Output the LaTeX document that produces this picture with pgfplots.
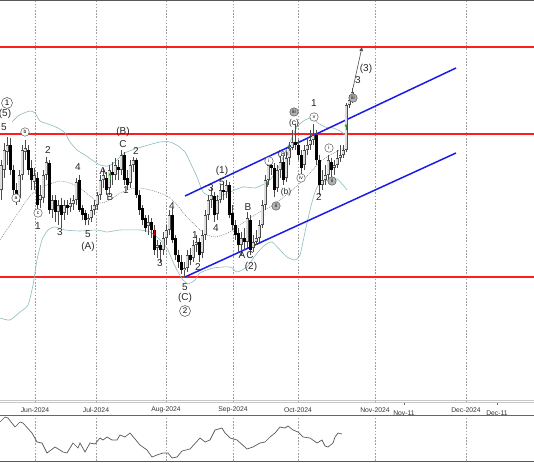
\documentclass[border=0pt]{standalone}
\usepackage{pgfplots}
\pgfplotsset{compat=1.18}
\usepackage{pgfplotstable}
\usepackage{fontspec}
\setmainfont{Liberation Sans}
\usetikzlibrary{arrows.meta}

\definecolor{bandc}{HTML}{8CBCBC}
\definecolor{redl}{HTML}{FF1E1E}
\definecolor{bluel}{HTML}{1C1CE8}
\definecolor{gridc}{HTML}{A0A0A0}
\definecolor{upfill}{HTML}{DEDEDE}
\definecolor{wavec}{HTML}{262626}
\definecolor{arrg}{HTML}{2E8B2E}

% price scale: negative of the pixel depth in the reference (higher = larger)
\pgfplotstableread{
x o h l c
1 -190 -160 -200 -165
4 -170 -143 -178 -150
7 -152 -137 -165 -145
10 -145 -138 -175 -170
13 -170 -165 -195 -190
16 -190 -183 -205 -200
19 -198 -170 -202 -175
22 -175 -145 -180 -150
25 -152 -140 -160 -148
28 -150 -145 -175 -170
31 -168 -160 -190 -180
34 -182 -168 -190 -175
37 -178 -172 -210 -205
40 -200 -185 -208 -195
43 -198 -170 -203 -175
46 -175 -157 -180 -162
49 -163 -160 -214 -210
52 -210 -195 -218 -200
55 -200 -195 -222 -212
58 -212 -200 -225 -205
61 -205 -198 -228 -215
64 -213 -200 -220 -205
67 -205 -200 -215 -208
70 -207 -198 -212 -203
73 -204 -195 -210 -200
76 -200 -178 -205 -182
79 -180 -175 -212 -210
82 -208 -205 -220 -215
85 -213 -210 -225 -220
88 -220 -214 -225 -218
91 -218 -205 -222 -210
94 -210 -200 -215 -205
97 -205 -192 -210 -195
100 -195 -175 -200 -180
103 -180 -168 -188 -175
106 -178 -172 -195 -190
109 -188 -165 -195 -170
112 -172 -162 -185 -175
115 -175 -158 -180 -165
118 -167 -160 -180 -170
121 -170 -150 -175 -155
124 -155 -152 -185 -180
127 -178 -170 -190 -185
130 -183 -160 -188 -165
133 -165 -157 -172 -160
136 -160 -158 -198 -195
139 -195 -190 -215 -210
142 -208 -205 -225 -220
145 -218 -215 -232 -228
148 -226 -215 -235 -222
151 -222 -218 -238 -230
154 -230 -225 -255 -250
157 -248 -240 -258 -245
160 -245 -242 -262 -250
163 -250 -232 -255 -238
166 -238 -225 -245 -230
169 -230 -210 -235 -215
172 -215 -208 -243 -240
175 -238 -235 -260 -255
178 -255 -250 -268 -262
181 -262 -255 -274 -270
184 -270 -262 -277 -268
187 -268 -250 -272 -255
190 -255 -248 -265 -260
193 -258 -240 -262 -245
196 -245 -235 -252 -242
199 -242 -238 -262 -255
202 -253 -230 -258 -235
205 -235 -210 -240 -215
208 -215 -195 -220 -200
211 -200 -188 -208 -195
214 -196 -192 -222 -215
217 -214 -195 -220 -200
220 -200 -185 -203 -190
223 -190 -182 -200 -192
226 -192 -180 -198 -185
229 -185 -182 -218 -215
232 -213 -205 -230 -225
235 -225 -220 -240 -235
238 -233 -228 -252 -245
241 -245 -232 -255 -238
244 -238 -228 -250 -242
247 -242 -212 -248 -218
250 -220 -215 -255 -250
253 -248 -235 -252 -242
256 -242 -230 -245 -238
259 -238 -220 -242 -225
262 -225 -200 -228 -205
265 -205 -175 -210 -180
268 -180 -158 -185 -165
271 -165 -160 -175 -168
274 -168 -163 -197 -190
277 -188 -165 -192 -170
280 -170 -156 -178 -162
283 -162 -156 -185 -180
286 -178 -152 -182 -158
289 -158 -142 -165 -148
292 -148 -130 -150 -142
295 -142 -124 -150 -145
298 -145 -140 -160 -155
301 -155 -150 -175 -168
304 -165 -145 -170 -150
307 -150 -138 -155 -145
310 -145 -130 -150 -140
313 -140 -124 -145 -135
316 -135 -130 -165 -160
319 -160 -155 -195 -185
322 -185 -170 -190 -180
325 -180 -165 -185 -175
328 -175 -155 -180 -160
331 -162 -158 -178 -170
334 -168 -160 -175 -165
337 -165 -150 -168 -158
340 -158 -145 -162 -155
343 -155 -145 -158 -150
346 -150 -103 -152 -105
349 -105 -95 -108 -100
352 -100 -88 -103 -92
}\candles

\tikzset{
  wl/.style={font=\fontsize{10}{10}\selectfont, text=wavec, inner sep=0pt},
  cw/.style={draw=black!75, fill=white, circle, inner sep=0pt, minimum size=8.5pt, line width=0.4pt, font=\fontsize{5}{5}\selectfont, text=black},
  cg/.style={cw, fill=black!30},
  cb/.style={draw=black!75, fill=white, circle, inner sep=0pt, minimum size=11pt, line width=0.45pt, font=\fontsize{8}{8}\selectfont, text=black},
  ga/.style={arrg, line width=1pt, -{Triangle[length=2.5pt,width=3pt]}},
}

\begin{document}
\begin{tikzpicture}[x=1pt,y=1pt]
\useasboundingbox (0,0) rectangle (534,462);
\begin{axis}[
  at={(0pt,60pt)}, anchor=south west,
  scale only axis, width=534pt, height=402pt,
  xmin=0, xmax=534, ymin=-402, ymax=0,
  axis line style={draw=none},
  clip=false,
  ytick=\empty,
  xtick={35,96,166,233,298,375,466},
  xticklabels={Jun-2024,Jul-2024,Aug-2024,Sep-2024,Oct-2024,Nov-2024,Dec-2024},
  extra x ticks={404,497},
  extra x tick labels={Nov-11,Dec-11},
  extra x tick style={grid=none, major tick length=3pt, tick align=outside, tick style={black!60, line width=0.4pt}},
  major tick length=0pt,
  xticklabel style={font=\fontsize{6.8}{7}\selectfont, text=black!80, anchor=center, yshift=-8pt, inner sep=0pt},
  xmajorgrids,
  grid style={gridc, dash pattern=on 1.6pt off 1.6pt, line width=0.45pt},
]
% horizontal levels
\addplot[redl, line width=1.5pt] coordinates {(0,-47) (534,-47)};
\addplot[redl, line width=1.5pt] coordinates {(0,-134) (534,-134)};
\addplot[redl, line width=1.5pt] coordinates {(0,-277) (534,-277)};

% Bollinger upper
\addplot[bandc, line width=0.6pt, smooth, tension=0.4] coordinates {
(12,-122) (18,-116) (24,-113) (30,-111) (35,-113) (40,-121) (48,-124) (58,-128) (65,-133) (70,-142) (77,-150) (85,-155) (92,-160) (100,-165) (108,-166) (115,-162) (123,-154) (132,-150) (145,-146) (160,-142) (170,-142) (178,-146) (185,-152) (190,-162) (197,-177) (203,-192) (210,-196) (217,-197) (230,-192) (243,-187) (255,-188) (262,-185) (270,-180) (278,-168) (285,-153) (290,-142) (297,-127) (305,-120) (312,-118) (318,-123) (325,-127) (333,-128) (340,-131) (347,-136)};
% Bollinger lower
\addplot[bandc, line width=0.6pt, smooth, tension=0.4] coordinates {
(0,-318) (10,-320) (20,-312) (28,-305) (33,-285) (37,-260) (42,-240) (48,-230) (55,-227) (65,-230) (80,-231) (97,-230) (107,-232) (120,-230) (140,-230) (150,-232) (157,-237) (163,-243) (168,-250) (173,-262) (178,-272) (183,-280) (188,-284) (195,-280) (200,-273) (213,-268) (230,-267) (237,-272) (247,-267) (252,-260) (258,-252) (265,-245) (272,-242) (280,-250) (287,-257) (295,-260) (300,-255) (305,-232) (310,-210) (315,-192) (320,-183) (328,-180) (337,-179) (343,-185) (347,-190)};
% middle average
\addplot[black!55, line width=0.45pt, dash pattern=on 1pt off 1pt, smooth, tension=0.4] coordinates {
(0,-240) (10,-225) (20,-210) (30,-196) (40,-188) (50,-184) (60,-181) (70,-183) (80,-188) (90,-196) (100,-203) (110,-200) (120,-193) (130,-189) (140,-188) (150,-190) (160,-193) (170,-198) (178,-206) (185,-215) (195,-225) (205,-234) (215,-237) (225,-234) (233,-230) (247,-220) (260,-212) (270,-207) (280,-200) (290,-192) (300,-183) (310,-173) (320,-162) (330,-155) (340,-150) (347,-147)};

% channel
\addplot[bluel, line width=1.5pt] coordinates {(185,-196) (456,-68)};
\addplot[bluel, line width=1.5pt] coordinates {(185,-277) (456,-153)};

% candles: wicks (low to high)
\addplot[draw=none, mark=none, error bars/.cd, y dir=plus, y explicit, error mark=none,
  error bar style={draw=black!70, line width=0.6pt}]
  table[x=x, y=l, y error plus expr={\thisrow{h}-\thisrow{l}}] {\candles};
% down bodies
\addplot[draw=none, mark=none, error bars/.cd, y dir=plus, y explicit, error mark=none,
  error bar style={draw=black, line width=3pt}]
  table[x=x, y expr={\thisrow{c}<\thisrow{o} ? \thisrow{c} : nan}, y error plus expr={\thisrow{o}-\thisrow{c}}] {\candles};
% up bodies (outline + fill)
\addplot[draw=none, mark=none, error bars/.cd, y dir=plus, y explicit, error mark=none,
  error bar style={draw=black!70, line width=3pt}]
  table[x=x, y expr={\thisrow{c}>\thisrow{o} ? \thisrow{o} : nan}, y error plus expr={\thisrow{c}-\thisrow{o}}] {\candles};
\addplot[draw=none, mark=none, error bars/.cd, y dir=plus, y explicit, error mark=none,
  error bar style={draw=upfill, line width=1.5pt}]
  table[x=x, y expr={\thisrow{c}>\thisrow{o} ? \thisrow{o}+0.75 : nan}, y error plus expr={\thisrow{c}-\thisrow{o}-1.5}] {\candles};

% projection arrow
\draw[black!70, line width=0.6pt, -{Triangle[length=4pt,width=3.5pt]}] (axis cs:353,-88) -- (axis cs:362,-47);

% signal arrows
\draw[ga] (axis cs:110,-179) -- (axis cs:110,-173);
\draw[ga] (axis cs:267,-187) -- (axis cs:267,-181);
\draw[ga] (axis cs:289,-151) -- (axis cs:289,-145);
\draw[ga] (axis cs:346,-130) -- (axis cs:346,-124);
\draw[red!80!black, line width=1pt, -{Triangle[length=2.5pt,width=3pt]}] (axis cs:154,-230) -- (axis cs:154,-236);

% wave labels
\node[cb] at (axis cs:7,-103) {1};
\node[wl] at (axis cs:5,-114) {(5)};
\node[wl] at (axis cs:4,-127) {5};
\node[cw] at (axis cs:16,-198) {a};
\node[cw] at (axis cs:25,-132) {b};
\node[cw] at (axis cs:38,-213) {c};
\node[wl] at (axis cs:38,-226) {1};
\node[wl] at (axis cs:48,-150) {2};
\node[wl] at (axis cs:60,-232) {3};
\node[wl] at (axis cs:78,-167) {4};
\node[wl] at (axis cs:88,-234) {5};
\node[wl] at (axis cs:88,-247) {(A)};
\node[wl] at (axis cs:103,-171) {A};
\node[wl] at (axis cs:110,-197) {B};
\node[wl] at (axis cs:123,-144) {C};
\node[wl] at (axis cs:123,-132) {(B)};
\node[wl] at (axis cs:126,-190) {1};
\node[wl] at (axis cs:136,-151) {2};
\node[wl] at (axis cs:160,-263) {3};
\node[wl] at (axis cs:172,-206) {4};
\node[wl] at (axis cs:185,-287) {5};
\node[wl] at (axis cs:185,-298) {(C)};
\node[cb] at (axis cs:185,-311) {2};
\node[wl] at (axis cs:195,-235) {1};
\node[wl] at (axis cs:198,-267) {2};
\node[wl] at (axis cs:211,-188) {3};
\node[wl] at (axis cs:216,-228) {4};
\node[wl] at (axis cs:222,-182) {5};
\node[wl] at (axis cs:222,-171) {(1)};
\node[wl] at (axis cs:242,-255) {A};
\node[wl] at (axis cs:250,-255) {C};
\node[wl] at (axis cs:248,-207) {B};
\node[wl] at (axis cs:251,-267) {(2)};
\node[cw] at (axis cs:269,-161) {i};
\node[cg] at (axis cs:276,-206) {ii};
\node[wl, font=\fontsize{8.5}{8.5}\selectfont] at (axis cs:283,-154) {(a)};
\node[wl, font=\fontsize{8.5}{8.5}\selectfont] at (axis cs:286,-192) {(b)};
\node[cg] at (axis cs:294,-112) {iii};
\node[wl, font=\fontsize{8.5}{8.5}\selectfont] at (axis cs:294,-123) {(c)};
\node[cw] at (axis cs:301,-178) {iv};
\node[wl] at (axis cs:314,-103) {1};
\node[cw] at (axis cs:314,-117) {v};
\node[wl] at (axis cs:319,-197) {2};
\node[cw] at (axis cs:329,-148) {i};
\node[cg] at (axis cs:332,-181) {ii};
\node[cg] at (axis cs:353,-98) {iii};
\node[wl] at (axis cs:358,-80) {3};
\node[wl] at (axis cs:366,-69) {(3)};
\end{axis}

% oscillator panel
\begin{axis}[
  at={(0pt,1pt)}, anchor=south west,
  scale only axis, width=534pt, height=46pt,
  xmin=0, xmax=534, ymin=-461, ymax=-415,
  axis line style={draw=none},
  ytick=\empty,
  xtick={35,96,166,233,298,375,466},
  xticklabels={},
  major tick length=0pt,
  xmajorgrids,
  grid style={gridc, dash pattern=on 1.6pt off 1.6pt, line width=0.45pt},
]
\addplot[black!65, line width=0.7pt] coordinates {
(0,-422) (5,-417) (8,-418) (15,-427) (20,-422) (23,-423) (32,-433) (37,-442) (42,-443) (47,-453) (55,-447) (63,-452) (67,-453) (73,-443) (78,-448) (80,-443) (85,-452) (90,-443) (95,-444) (100,-438) (103,-440) (107,-437) (112,-440) (117,-440) (120,-435) (125,-437) (130,-433) (140,-445) (147,-450) (152,-457) (157,-455) (163,-453) (168,-453) (172,-458) (177,-457) (182,-451) (190,-449) (200,-438) (205,-442) (210,-440) (215,-430) (222,-428) (225,-433) (230,-438) (237,-440) (247,-449) (253,-447) (260,-443) (265,-442) (270,-437) (275,-433) (280,-427) (285,-428) (288,-426) (293,-430) (298,-432) (303,-437) (310,-438) (317,-443) (322,-440) (325,-446) (328,-447) (333,-443) (335,-437) (338,-433) (342,-434)};
\end{axis}

% frame lines
\draw[black!65, line width=0.9pt] (0,461.6) -- (534,461.6);
\draw[black!22, line width=0.8pt] (0,62) -- (534,62);
\draw[black!22, line width=0.8pt] (0,59.5) -- (534,59.5);
\draw[black!60, line width=0.7pt] (0,47) -- (534,47);
\draw[black!65, line width=0.8pt] (0,1) -- (534,1);
\end{tikzpicture}
\end{document}
